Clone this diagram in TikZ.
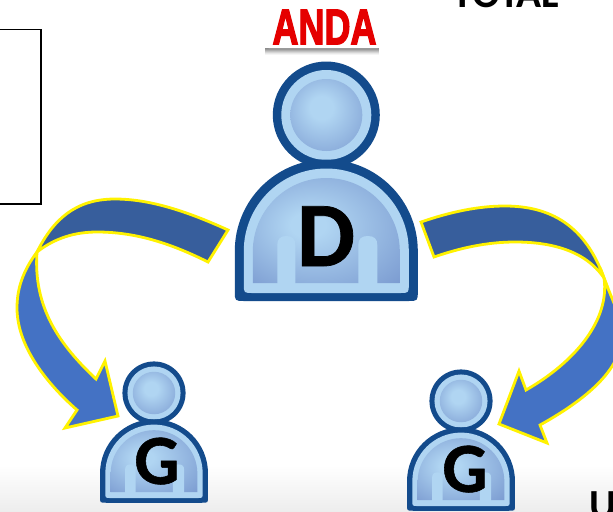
\documentclass[tikz,border=0pt]{standalone}
\usepackage{fontspec}
\setmainfont{Carlito}
\newfontfamily\andafont[FakeBold=3]{Liberation Sans Bold}
\newfontfamily\heavyfont[FakeBold=0.8]{Carlito Bold}
\definecolor{pdark}{HTML}{134B8C}
\definecolor{plight}{HTML}{B0D5F2}
\definecolor{pshade}{HTML}{7A9AD0}
\definecolor{arrowdark}{HTML}{375E9C}
\definecolor{arrowblue}{HTML}{4472C4}
\pgfdeclareradialshading{bodyglow}{\pgfpoint{-7bp}{3bp}}{color(0bp)=(plight);color(6bp)=(plight);color(38bp)=(pshade);color(50bp)=(pshade)}
\pgfdeclareradialshading{headglow}{\pgfpoint{-4bp}{6bp}}{color(0bp)=(plight);color(8bp)=(plight);color(36bp)=(pshade!90!plight);color(50bp)=(pshade!90!plight)}
\newcommand{\bodypath}[4]{(-#1,#3-#4) -- (-#1,#2) .. controls ({-#1},{#2-.5523*#1}) and ({-.5523*#1},{#2-#1}) .. (0,{#2-#1}) .. controls ({.5523*#1},{#2-#1}) and (#1,{#2-.5523*#1}) .. (#1,#2) -- (#1,#3-#4) .. controls (#1,#3) and (#1,#3) .. (#1-#4,#3) -- (-#1+#4,#3) .. controls (-#1,#3) and (-#1,#3) .. (-#1,#3-#4) -- cycle}
\newcommand{\barpath}[4]{(#1,#4) -- (#1,#3+9) .. controls (#1,#3+3) and (#1+3,#3) .. ({(#1+#2)/2},#3) .. controls (#2-3,#3) and (#2,#3+3) .. (#2,#3+9) -- (#2,#4) -- cycle}
\newcommand{\personicon}[3]{%
  \begin{scope}[shift={(#1,#2)},scale=#3]
    \fill[pdark] (0,0) circle[radius=53.5];
    \fill[plight] (0,0) circle[radius=45];
    \shade[shading=headglow] (0,0) circle[radius=36];
    \fill[pdark] \bodypath{91.5}{136}{186}{10};
    \fill[plight] \bodypath{82.5}{136}{178}{9};
    \shade[shading=bodyglow] \bodypath{73.5}{136.5}{168}{0.1};
    \fill[plight] \barpath{-49}{-31}{121}{172};
    \fill[plight] \barpath{32}{51}{121}{172};
  \end{scope}}
\tikzset{
  blockarrow/.style={draw=yellow,line width=2.1pt,line join=miter,miter limit=10},
  bigletter/.style={anchor=base,inner sep=0pt,font=\heavyfont\fontsize{69}{69}\selectfont,text=black},
  smallletter/.style={anchor=base,inner sep=0pt,font=\heavyfont\fontsize{53}{53}\selectfont,text=black},
  slidetext/.style={anchor=base,inner sep=0pt,font=\fontsize{31}{31}\selectfont\bfseries,text=black}
}
\begin{document}
\begin{tikzpicture}[x=0.75pt,y=-0.75pt]
\useasboundingbox (0,0) rectangle (613,511);
\clip (0,0) rectangle (613,511);
\fill[white] (0,0) rectangle (613,511);
\shade[top color=white,bottom color=black!7] (0,465) rectangle (613,511);
% frame at the upper left
\draw[black,line width=1pt] (-5,29.5) -- (41,29.5) -- (41,204) -- (-5,204);
% top and bottom slide texts
\node[slidetext] (total) at (506,7) {TOTAL};
\node[slidetext,anchor=base west] (cut) at (589,518) {U};
% ANDA, with its soft shadow
\foreach \i/\g in {0/45,1/40,2/32,3/24,4/16,5/9,6/4}
  \draw[black!\g,line width=0.8pt] (265,48.5+\i) -- (379,48.5+\i);
\fill[white,rounded corners=2pt] (266,4) rectangle (381,48);
\node[inner sep=0pt,text=red!90!black,font=\andafont\fontsize{37.5}{37.5}\selectfont,xscale=.72] (anda) at (324.5,27) {ANDA};
% left arrow
\path[blockarrow,fill=arrowblue] (37,252) .. controls (22,272) and (17,290) .. (17,308) .. controls (17,345) and (45,382) .. (77,410) -- (65,428) -- (118,416) -- (105,361) -- (96,379) .. controls (60,345) and (33,308) .. (37,252) -- cycle;
\path[blockarrow,fill=arrowdark] (228,230) .. controls (180,208) and (145,199) .. (115,199) .. controls (75,199) and (53,220) .. (37,252) .. controls (55,238) and (75,232) .. (97,232) .. controls (135,232) and (170,243) .. (208,262) -- cycle;
% right arrow
\path[blockarrow,fill=arrowblue] (604,278) .. controls (612,300) and (622,318) .. (622,335) .. controls (622,370) and (585,400) .. (540,425) -- (547,443) -- (499,424) -- (519,371) -- (526,390) .. controls (575,362) and (610,320) .. (604,278) -- cycle;
\path[blockarrow,fill=arrowdark] (421,222) .. controls (450,212) and (478,206) .. (505,206) .. controls (550,206) and (585,225) .. (604,278) .. controls (585,250) and (550,242) .. (515,242) .. controls (487,242) and (460,248) .. (434,257) -- cycle;
% people
\personicon{326.3}{115}{1}
\node[bigletter] (D) at (326,266) {D};
\personicon{154}{393}{0.59}
\node[smallletter] (G1) at (157,484) {G};
\personicon{461}{401}{0.59}
\node[smallletter] (G2) at (465,492) {G};
\end{tikzpicture}
\end{document}
